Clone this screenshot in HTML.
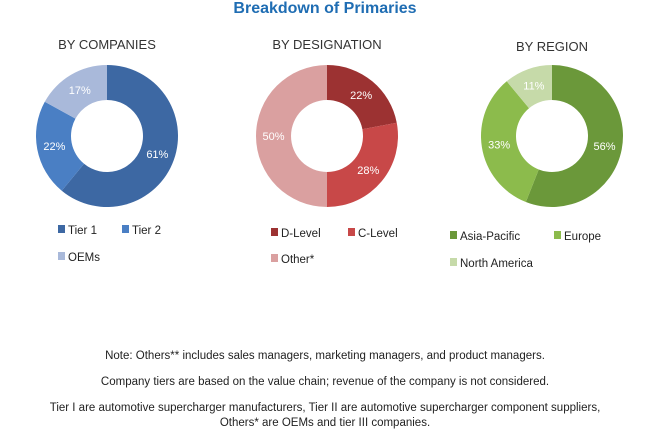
<!DOCTYPE html>
<html><head><meta charset="utf-8"><style>
body{margin:0;width:650px;height:434px;background:#fff;font-family:"Liberation Sans",sans-serif;overflow:hidden;position:relative}
.t{position:absolute;white-space:nowrap}
.note{position:absolute;left:0;width:650px;text-align:center;font-size:11.5px;color:#222}
</style></head><body>
<div class="t" style="left:0;width:650px;text-align:center;top:0;font-size:16px;font-weight:bold;color:#1f6db3">Breakdown of Primaries</div>
<svg id="c" width="650" height="300" style="position:absolute;left:0;top:0"></svg>
<div class="note" style="top:350px">Note: Others** includes sales managers, marketing managers, and product managers.</div>
<div class="note" style="top:376px">Company tiers are based on the value chain; revenue of the company is not considered.</div>
<div class="note" style="top:401px;line-height:15px">Tier I are automotive supercharger manufacturers, Tier II are automotive supercharger component suppliers,<br>Others* are OEMs and tier III companies.</div>
<script>
const titles=["BY COMPANIES","BY DESIGNATION","BY REGION"];
const labels0=["Tier 1","Tier 2","OEMs"];
const values0=[61,22,17];
const labels1=["D-Level","C-Level","Other*"];
const values1=[22,28,50];
const labels2=["Asia-Pacific","Europe","North America"];
const values2=[56,33,11];
const charts=[
 {t:titles[0],l:labels0,v:values0,cx:107,cy:136,c:["#3d68a3","#4a7fc4","#a9b9da"],lx:[58,122,58],ly:[230,230,257]},
 {t:titles[1],l:labels1,v:values1,cx:327,cy:136,c:["#9c3232","#c84848","#daa0a0"],lx:[271,348,271],ly:[233,233,259]},
 {t:titles[2],l:labels2,v:values2,cx:552,cy:136,c:["#6b983a","#8cbb4c","#c6daa9"],lx:[450,554,450],ly:[236,236,263]}
];
const svg=document.getElementById('c');const NS="http://www.w3.org/2000/svg";
const R=71,r=36;
function pt(cx,cy,rad,f){const a=f*2*Math.PI-Math.PI/2;return [cx+rad*Math.cos(a),cy+rad*Math.sin(a)];}
charts.forEach((ch,ci)=>{
 const tt=document.createElementNS(NS,'text');
 
 
 tt.setAttribute('x',ch.cx);tt.setAttribute('y',ci==2?51:49);tt.setAttribute('text-anchor','middle');
 tt.setAttribute('font-size','13');tt.setAttribute('fill','#333');tt.textContent=ch.t;svg.appendChild(tt);
 const tot=ch.v.reduce((a,b)=>a+b,0);let acc=0;
 ch.v.forEach((v,i)=>{
  const f0=acc/tot,f1=(acc+v)/tot;acc+=v;
  const [x0,y0]=pt(ch.cx,ch.cy,R,f0),[x1,y1]=pt(ch.cx,ch.cy,R,f1),[x2,y2]=pt(ch.cx,ch.cy,r,f1),[x3,y3]=pt(ch.cx,ch.cy,r,f0);
  const lg=(f1-f0)>0.5?1:0;
  const p=document.createElementNS(NS,'path');
  
  
  p.setAttribute('d',`M${x0},${y0}A${R},${R} 0 ${lg} 1 ${x1},${y1}L${x2},${y2}A${r},${r} 0 ${lg} 0 ${x3},${y3}Z`);
  p.setAttribute('fill',ch.c[i]);svg.appendChild(p);
  const [lx,ly]=pt(ch.cx,ch.cy,(R+r)/2,(f0+f1)/2);
  const tx=document.createElementNS(NS,'text');
  
  
  tx.setAttribute('x',lx);tx.setAttribute('y',ly+4);tx.setAttribute('text-anchor','middle');
  tx.setAttribute('font-size','11');tx.setAttribute('fill','#fff');tx.textContent=v+'%';svg.appendChild(tx);
  const sq=document.createElementNS(NS,'rect');
  
  
  sq.setAttribute('x',ch.lx[i]);sq.setAttribute('y',ch.ly[i]-5);sq.setAttribute('width',7);sq.setAttribute('height',8);sq.setAttribute('fill',ch.c[i]);svg.appendChild(sq);
  const lt=document.createElementNS(NS,'text');
  
  
  lt.setAttribute('x',ch.lx[i]+10);lt.setAttribute('y',ch.ly[i]+4);lt.setAttribute('font-size','11.5');lt.setAttribute('fill','#222');
  lt.textContent=ch.l[i];svg.appendChild(lt);
 });
});
</script>
</body></html>
